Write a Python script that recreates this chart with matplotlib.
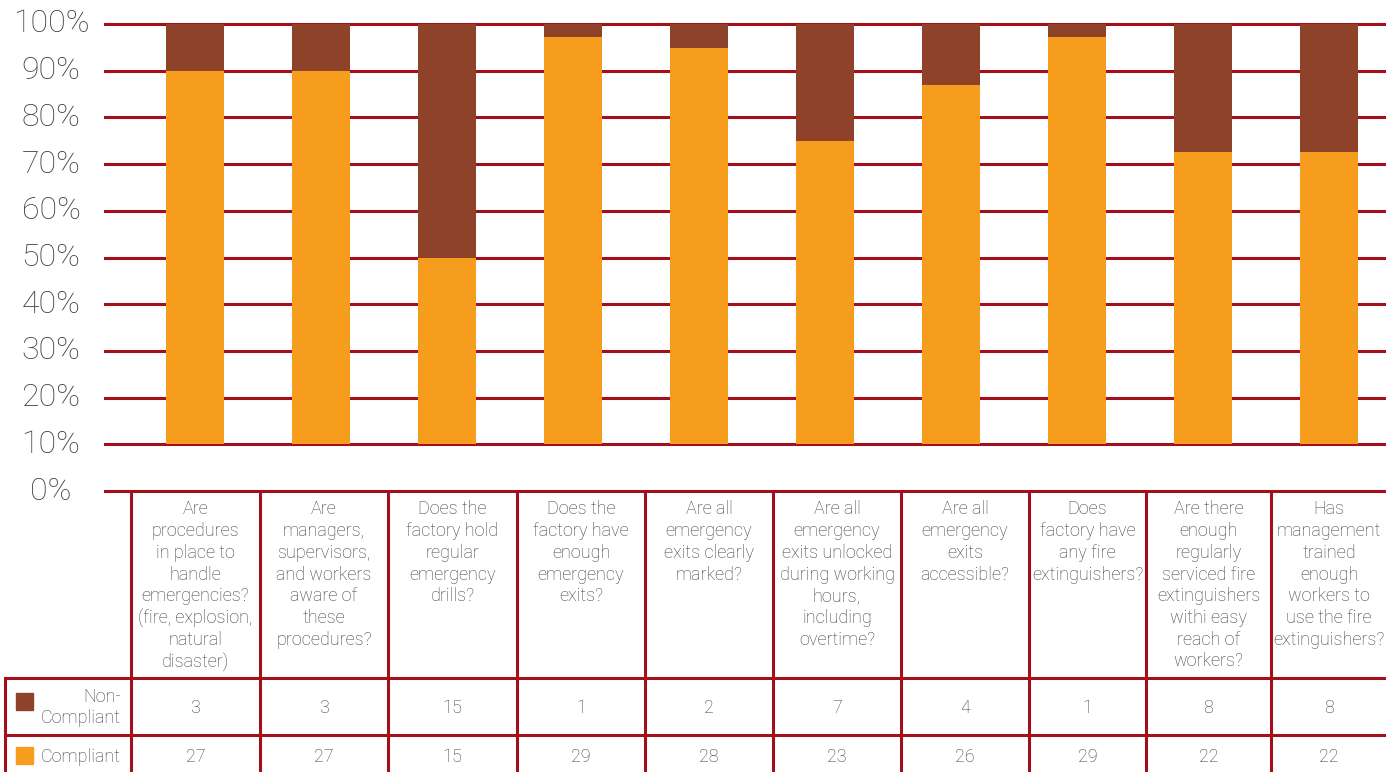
import matplotlib
matplotlib.use("Agg")
import matplotlib.pyplot as plt
import numpy as np

# data
questions = [
    "Are\nprocedures\nin place to\nhandle\nemergencies?\n(fire, explosion,\nnatural\ndisaster)",
    "Are\nmanagers,\nsupervisors,\nand workers\naware of\nthese\nprocedures?",
    "Does the\nfactory hold\nregular\nemergency\ndrills?",
    "Does the\nfactory have\nenough\nemergency\nexits?",
    "Are all\nemergency\nexits clearly\nmarked?",
    "Are all\nemergency\nexits unlocked\nduring working\nhours,\nincluding\novertime?",
    "Are all\nemergency\nexits\naccessible?",
    "Does\nfactory have\nany fire\nextinguishers?",
    "Are there\nenough\nregularly\nserviced fire\nextinguishers\nwithi easy\nreach of\nworkers?",
    "Has\nmanagement\ntrained\nenough\nworkers to\nuse the fire\nextinguishers?",
]
# counts shown in the data table
non_compliant = [3, 3, 15, 1, 2, 7, 4, 1, 8, 8]
compliant = [27, 27, 15, 29, 28, 23, 26, 29, 22, 22]
# where the orange part of each bar ends (%)
compliant_pct = [90, 90, 50, 97.3, 94.9, 74.9, 86.9, 97.3, 72.6, 72.6]
bar_start = 10  # bars start at the 10% line in the original
series_names = ["Non-\nCompliant", "Compliant"]
yticks = [0, 10, 20, 30, 40, 50, 60, 70, 80, 90, 100]
ytick_labels = ["0%", "10%", "20%", "30%", "40%", "50%", "60%", "70%", "80%", "90%", "100%"]

c_brown = "#8D4229"
c_orange = "#F69D1E"
c_line = "#A30F1B"
c_text = "#3d3d3d"
font = ["Roboto", "DejaVu Sans"]
fw = "light"

W, H = 1386, 772
fig = plt.figure(figsize=(W / 100, H / 100), dpi=100)

# chart area (pixel layout converted to figure fractions)
ax = fig.add_axes([105 / W, (H - 491) / H, (1386 - 105) / W, (491 - 24) / H])
x = np.arange(len(questions))
top = np.array(compliant_pct)

ax.bar(x, top - bar_start, bottom=bar_start, width=0.46, color=c_orange, zorder=3)
ax.bar(x, 100 - top, bottom=top, width=0.46, color=c_brown, zorder=3)

for t in yticks:
    ax.axhline(t, color=c_line, lw=2.2, zorder=1, clip_on=False)

# tick labels centred at x=51 px
lbl_x = (51 - 105) / (1386 - 105)
for t, lab in zip(yticks, ytick_labels):
    ax.text(lbl_x, t, lab, transform=ax.get_yaxis_transform(), ha="center", va="center",
            fontsize=23, color=c_text, family=font, weight=fw)

ax.set_xlim(-90 / 126, 1191 / 126)
ax.set_ylim(0, 100)
ax.axis("off")

# data table drawn underneath in pixel coords
tab = fig.add_axes([0, 0, 1, 1])
tab.set_xlim(0, W)
tab.set_ylim(H, 0)
tab.axis("off")

col_edges = [131, 260, 388, 517, 645, 773, 901, 1029, 1146, 1271, 1392]
row_top, row_1, row_2, row_bot = 491, 678, 735, 775

lw = 2.2
for xe in col_edges[:-1]:
    tab.plot([xe, xe], [row_top, row_bot], color=c_line, lw=lw, solid_capstyle="butt")
tab.plot([5, 5], [row_1, row_bot], color=c_line, lw=lw, solid_capstyle="butt")
tab.plot([5, W], [row_1, row_1], color=c_line, lw=lw)
tab.plot([5, W], [row_2, row_2], color=c_line, lw=lw)

fs = 13
pitch = 21.7


def lines_at(xc, y_base, txt, ha):
    # one text per line so the line pitch is exact
    for k, line in enumerate(txt.split("\n")):
        tab.text(xc, y_base + k * pitch, line, ha=ha, va="baseline", fontsize=fs,
                 color=c_text, family=font, weight=fw)


for i, q in enumerate(questions):
    cx = (col_edges[i] + col_edges[i + 1]) / 2
    if i == len(questions) - 1:
        cx = 1329
    lines_at(cx, 514.5, q, "center")
    lines_at(cx, 713, str(non_compliant[i]), "center")
    lines_at(cx, 761.5, str(compliant[i]), "center")

# legend keys inside the row headers
lines_at(121, 701.5, series_names[0], "right")
lines_at(121, 761.5, series_names[1], "right")
tab.add_patch(plt.Rectangle((16, 693), 17, 17, color=c_brown))
tab.add_patch(plt.Rectangle((16, 747), 17, 17, color=c_orange))

fig.savefig("out.png", dpi=100)
